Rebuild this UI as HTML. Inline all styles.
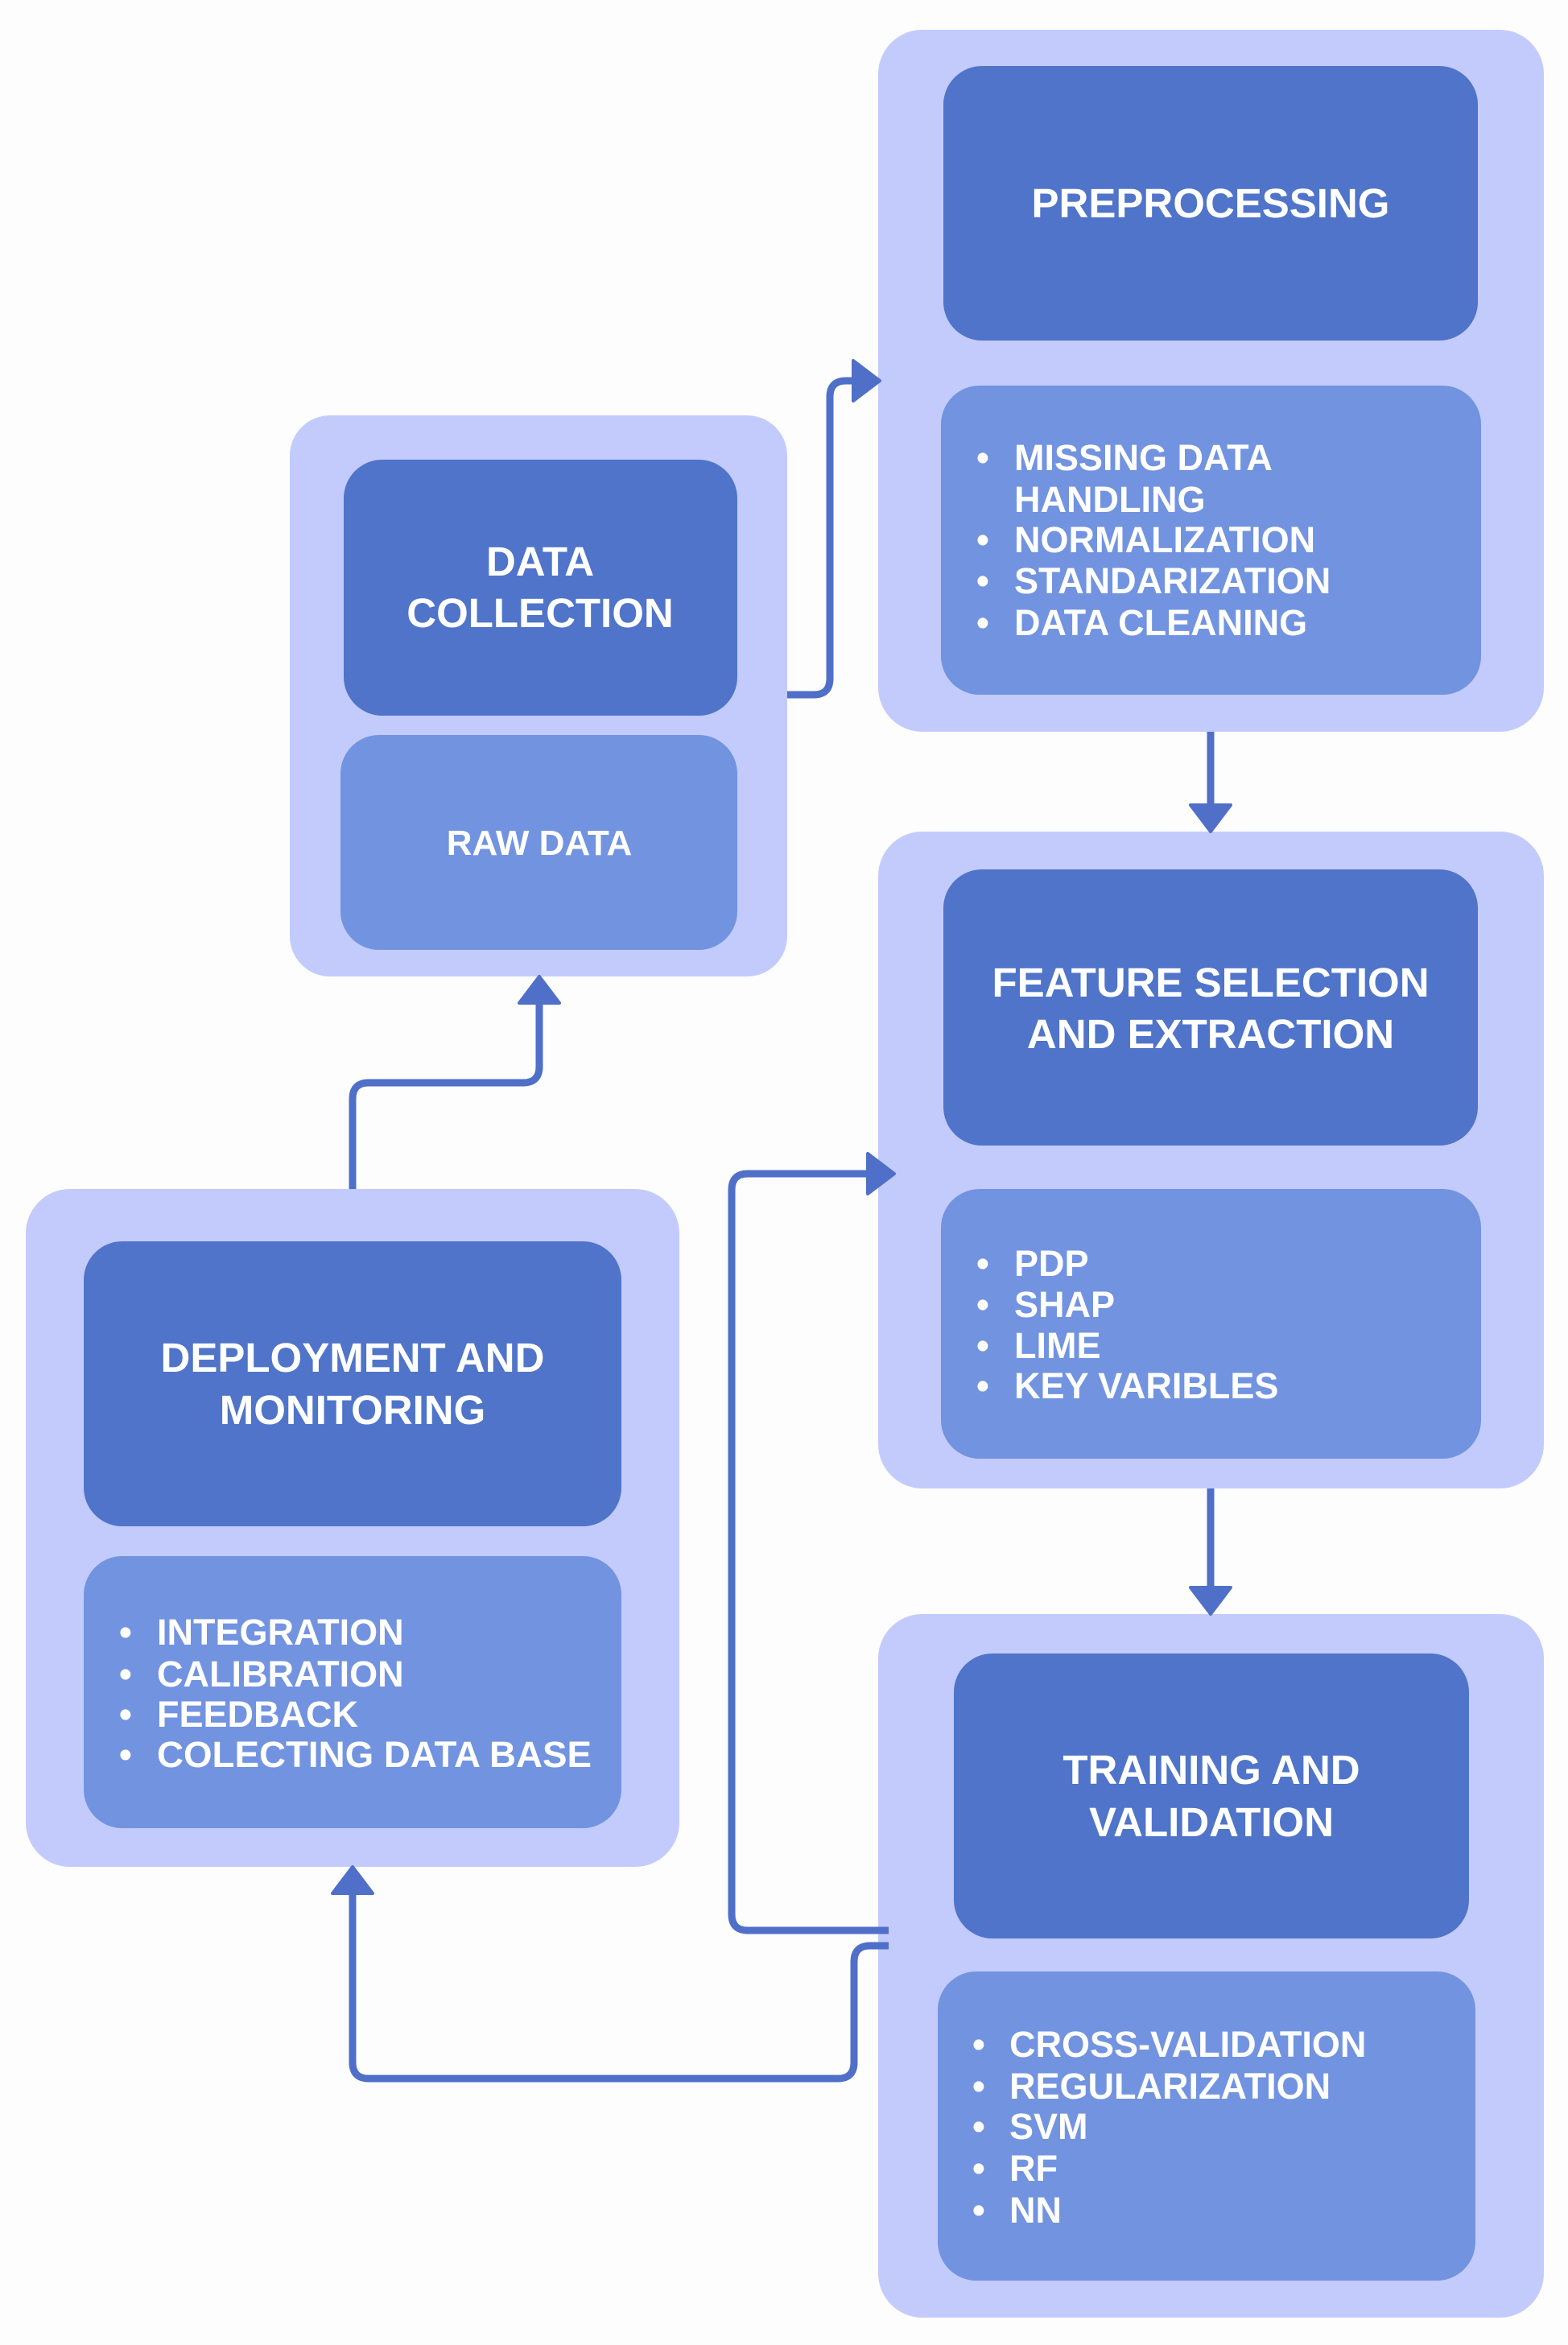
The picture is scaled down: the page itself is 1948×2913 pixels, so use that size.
<!DOCTYPE html>
<html><head><meta charset="utf-8"><style>
html,body{margin:0;padding:0;background:#fdfdfe;}
svg{display:block}
text{font-family:"Liberation Sans",sans-serif;fill:#fff}
.t{font-weight:bold;font-size:51px}
.b{font-size:45px;font-weight:bold}
</style></head><body>
<svg width="1948" height="2913" viewBox="0 0 1948 2913" xmlns="http://www.w3.org/2000/svg">
<g fill="#c3cbfd">
<rect x="1091" y="37" width="827" height="872" rx="55"/>
<rect x="360" y="516" width="618" height="697" rx="50"/>
<rect x="1091" y="1033" width="827" height="816" rx="55"/>
<rect x="32" y="1477" width="812" height="842" rx="55"/>
<rect x="1091" y="2005" width="827" height="874" rx="55"/>
</g>
<g fill="#4f74c9">
<rect x="1172" y="82" width="664" height="341" rx="48"/>
<rect x="427" y="571" width="489" height="318" rx="48"/>
<rect x="1172" y="1080" width="664" height="343" rx="48"/>
<rect x="104" y="1542" width="668" height="354" rx="48"/>
<rect x="1185" y="2054" width="640" height="354" rx="48"/>
</g>
<g fill="#7293e0">
<rect x="1169" y="479" width="671" height="384" rx="48"/>
<rect x="423" y="913" width="493" height="267" rx="48"/>
<rect x="1169" y="1477" width="671" height="335" rx="48"/>
<rect x="104" y="1933" width="668" height="338" rx="48"/>
<rect x="1165" y="2449" width="668" height="384" rx="48"/>
</g>
<g fill="none" stroke="#4f6fc8" stroke-width="9" stroke-linejoin="round">
<path d="M978 863 H1011 Q1031 863 1031 843 V493 Q1031 473 1051 473 H1070"/>
<path d="M1504 909 V1005"/>
<path d="M1504 1849 V1977"/>
<path d="M438 1477 V1365 Q438 1345 458 1345 H650 Q670 1345 670 1325 V1245"/>
<path d="M1104 2398 H929 Q909 2398 909 2378 V1478 Q909 1458 929 1458 H1080"/>
<path d="M1104 2417 H1081 Q1061 2417 1061 2437 V2562 Q1061 2582 1041 2582 H458 Q438 2582 438 2562 V2350"/>
</g>
<g fill="#4f6fc8" stroke="#4f6fc8" stroke-width="4" stroke-linejoin="round">
<polygon points="1093,473 1060,448 1060,498"/>
<polygon points="1504,1033 1479,1000 1529,1000"/>
<polygon points="1504,2005 1479,1972 1529,1972"/>
<polygon points="670,1213 645,1246 695,1246"/>
<polygon points="1111,1458 1078,1433 1078,1483"/>
<polygon points="438,2319 413,2352 463,2352"/>
</g>
<g text-anchor="middle" class="t">
<text class="t" x="1504" y="270">PREPROCESSING</text>
<text class="t" x="671" y="715">DATA</text>
<text class="t" x="671" y="779">COLLECTION</text>
<text x="670" y="1062" style="font-size:44px">RAW DATA</text>
<text class="t" x="1504" y="1238">FEATURE SELECTION</text>
<text class="t" x="1504" y="1302">AND EXTRACTION</text>
<text class="t" x="438" y="1704">DEPLOYMENT AND</text>
<text class="t" x="438" y="1769">MONITORING</text>
<text class="t" x="1505" y="2216">TRAINING AND</text>
<text class="t" x="1505" y="2281">VALIDATION</text>
</g>
<g class="b">
<text class="b" x="1213" y="584">•</text><text class="b" x="1260" y="584">MISSING DATA</text>
<text class="b" x="1260" y="636">HANDLING</text>
<text class="b" x="1213" y="686">•</text><text class="b" x="1260" y="686">NORMALIZATION</text>
<text class="b" x="1213" y="737">•</text><text class="b" x="1260" y="737">STANDARIZATION</text>
<text class="b" x="1213" y="789">•</text><text class="b" x="1260" y="789">DATA CLEANING</text>

<text class="b" x="1213" y="1585">•</text><text class="b" x="1260" y="1585">PDP</text>
<text class="b" x="1213" y="1636">•</text><text class="b" x="1260" y="1636">SHAP</text>
<text class="b" x="1213" y="1687">•</text><text class="b" x="1260" y="1687">LIME</text>
<text class="b" x="1213" y="1737">•</text><text class="b" x="1260" y="1737">KEY VARIBLES</text>

<text class="b" x="148" y="2043">•</text><text class="b" x="195" y="2043">INTEGRATION</text>
<text class="b" x="148" y="2095">•</text><text class="b" x="195" y="2095">CALIBRATION</text>
<text class="b" x="148" y="2145">•</text><text class="b" x="195" y="2145">FEEDBACK</text>
<text class="b" x="148" y="2195">•</text><text class="b" x="195" y="2195" textLength="540" lengthAdjust="spacingAndGlyphs">COLECTING DATA BASE</text>

<text class="b" x="1208" y="2555">•</text><text class="b" x="1254" y="2555">CROSS-VALIDATION</text>
<text class="b" x="1208" y="2607">•</text><text class="b" x="1254" y="2607">REGULARIZATION</text>
<text class="b" x="1208" y="2657">•</text><text class="b" x="1254" y="2657">SVM</text>
<text class="b" x="1208" y="2709">•</text><text class="b" x="1254" y="2709">RF</text>
<text class="b" x="1208" y="2761">•</text><text class="b" x="1254" y="2761">NN</text>
</g>
</svg>
</body></html>
